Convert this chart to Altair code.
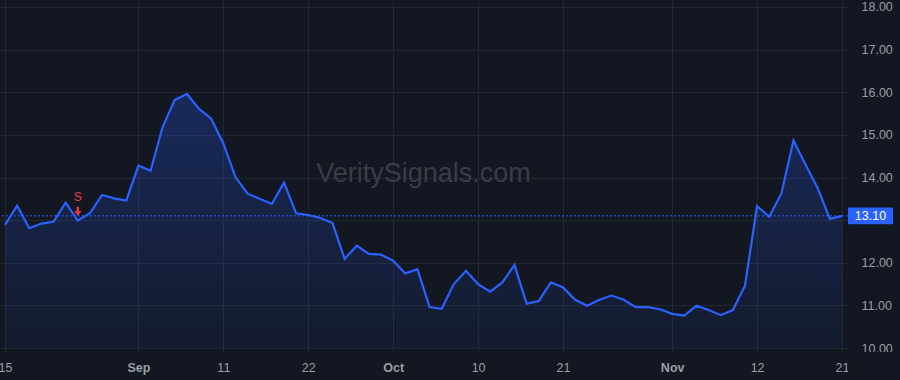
import altair as alt
import pandas as pd

# Closing values, one per trading day (15 Aug .. 21 Nov)
values = [12.89, 13.34, 12.81, 12.92, 12.96, 13.41, 12.99, 13.16, 13.59, 13.51,
          13.46, 14.28, 14.16, 15.19, 15.82, 15.96, 15.61, 15.38, 14.80, 14.01,
          13.62, 13.50, 13.38, 13.88, 13.16, 13.12, 13.05, 12.93, 12.09, 12.40,
          12.21, 12.19, 12.05, 11.75, 11.85, 10.96, 10.92, 11.50, 11.81, 11.50,
          11.32, 11.54, 11.95, 11.04, 11.10, 11.54, 11.42, 11.13, 10.99, 11.13,
          11.23, 11.13, 10.96, 10.96, 10.91, 10.80, 10.76, 10.99, 10.89, 10.77,
          10.89, 11.46, 13.33, 13.08, 13.62, 14.87, 14.30, 13.75, 13.03, 13.10]

tick_index = [0, 11, 18, 25, 32, 39, 46, 55, 62, 69]
tick_labels = ["15", "Sep", "11", "22", "Oct", "10", "21", "Nov", "12", "21"]
month_ticks = [11, 32, 55]
price_ticks = [10, 11, 12, 13, 14, 15, 16, 17, 18]
signal_index = [6]
signal_text = ["S"]
watermark = "VeritySignals.com"

BG = "#131722"
BLUE = "#2962ff"
RED = "#f23645"
FONT = "Liberation Sans"

df = pd.DataFrame({"i": list(range(len(values))), "v": values})
sig = pd.DataFrame({"i": signal_index, "v": [values[k] for k in signal_index],
                    "t": signal_text})
last = values[-1]
last_df = pd.DataFrame({"v": [last], "t": [f"{last:.2f}"]})

W, H = 848, 352
xscale = alt.Scale(domain=[-0.4122, 69.495], nice=False, zero=False)
yscale = alt.Scale(domain=[9.9062, 18.1642], nice=False, zero=False)

idx_js = "[" + ",".join(str(k) for k in tick_index) + "]"
lab_js = "[" + ",".join(f"'{t}'" for t in tick_labels) + "]"
mon_js = "[" + ",".join(str(k) for k in month_ticks) + "]"

xaxis = alt.Axis(values=tick_index, labelExpr=f"{lab_js}[indexof({idx_js}, datum.value)]",
                 title=None, ticks=False, domain=False, grid=True, labelPadding=9,
                 labelFontWeight={"condition": {"test": f"indexof({mon_js}, datum.value) >= 0",
                                                "value": "bold"}, "value": "normal"},
                 labelFlush=False, labelOverlap=False)
# the price tag of the last value hides the axis label it covers
yaxis = alt.Axis(values=price_ticks, orient="right", title=None,
                 labelExpr=f"abs(datum.value - {last}) < 0.35 ? '' : format(datum.value, '.2f')",
                 ticks=False, domain=False, grid=True, labelPadding=13,
                 labelAlign="left", labelOverlap=False, labelFlush=False)

base = alt.Chart(df)

area = base.mark_area(
    color=alt.Gradient(gradient="linear",
                       stops=[alt.GradientStop(color="rgba(41,98,255,0.26)", offset=0),
                              alt.GradientStop(color="rgba(41,98,255,0.05)", offset=1)],
                       x1=0, x2=0, y1=0, y2=1)
).encode(x=alt.X("i:Q", scale=xscale, axis=xaxis),
         y=alt.Y("v:Q", scale=yscale, axis=yaxis),
         y2=alt.datum(10))

wm = alt.Chart(pd.DataFrame({"t": [watermark]})).mark_text(
    font=FONT, fontSize=27, color="#3a3d47", align="center", baseline="alphabetic"
).encode(x=alt.value(423.5), y=alt.value(181.7), text="t:N")

line = base.mark_line(color=BLUE, strokeWidth=2.2).encode(
    x=alt.X("i:Q", scale=xscale), y=alt.Y("v:Q", scale=yscale))

rule = alt.Chart(last_df).mark_rule(color=BLUE, strokeWidth=1, strokeDash=[2, 2]).encode(
    y=alt.Y("v:Q", scale=yscale))

arrow_path = "M -0.3 -1 L 0.3 -1 L 0.3 0.05 L 0.9 0.05 L 0 1.15 L -0.9 0.05 L -0.3 0.05 Z"
arrow = alt.Chart(sig).mark_point(shape=arrow_path, filled=True, color=RED, size=70,
                                  opacity=1, yOffset=-9.5).encode(
    x=alt.X("i:Q", scale=xscale), y=alt.Y("v:Q", scale=yscale))
stext = alt.Chart(sig).mark_text(font=FONT, fontSize=12, color=RED, baseline="middle",
                                 yOffset=-23.5).encode(
    x=alt.X("i:Q", scale=xscale), y=alt.Y("v:Q", scale=yscale), text="t:N")

mask = alt.Chart(last_df).mark_rect(color=BG).encode(
    x=alt.value(848), x2=alt.value(900), y=alt.value(352), y2=alt.value(380))

box = alt.Chart(last_df).mark_rect(color=BLUE, yOffset=-8.3, y2Offset=8.3, cornerRadius=1).encode(
    x=alt.value(848), x2=alt.value(893), y=alt.Y("v:Q", scale=yscale), y2="v:Q")
boxtext = alt.Chart(last_df).mark_text(font=FONT, fontSize=12.5, color="#ffffff",
                                       align="center", baseline="middle").encode(
    x=alt.value(870.5), y=alt.Y("v:Q", scale=yscale), text="t:N")

chart = alt.layer(area, wm, line, rule, arrow, stext, mask, box, boxtext).properties(
    width=W, height=H, background=BG,
    autosize=alt.AutoSizeParams(type="none"),
    padding={"left": 0, "top": 0, "right": 52, "bottom": 28},
).configure_view(stroke=None).configure_axis(
    gridColor="#232733", gridWidth=1, labelColor="#9a9da6", labelFont=FONT,
    labelFontSize=12.5
)

chart.save("out.html", embed_options={"renderer": "svg", "actions": False})
